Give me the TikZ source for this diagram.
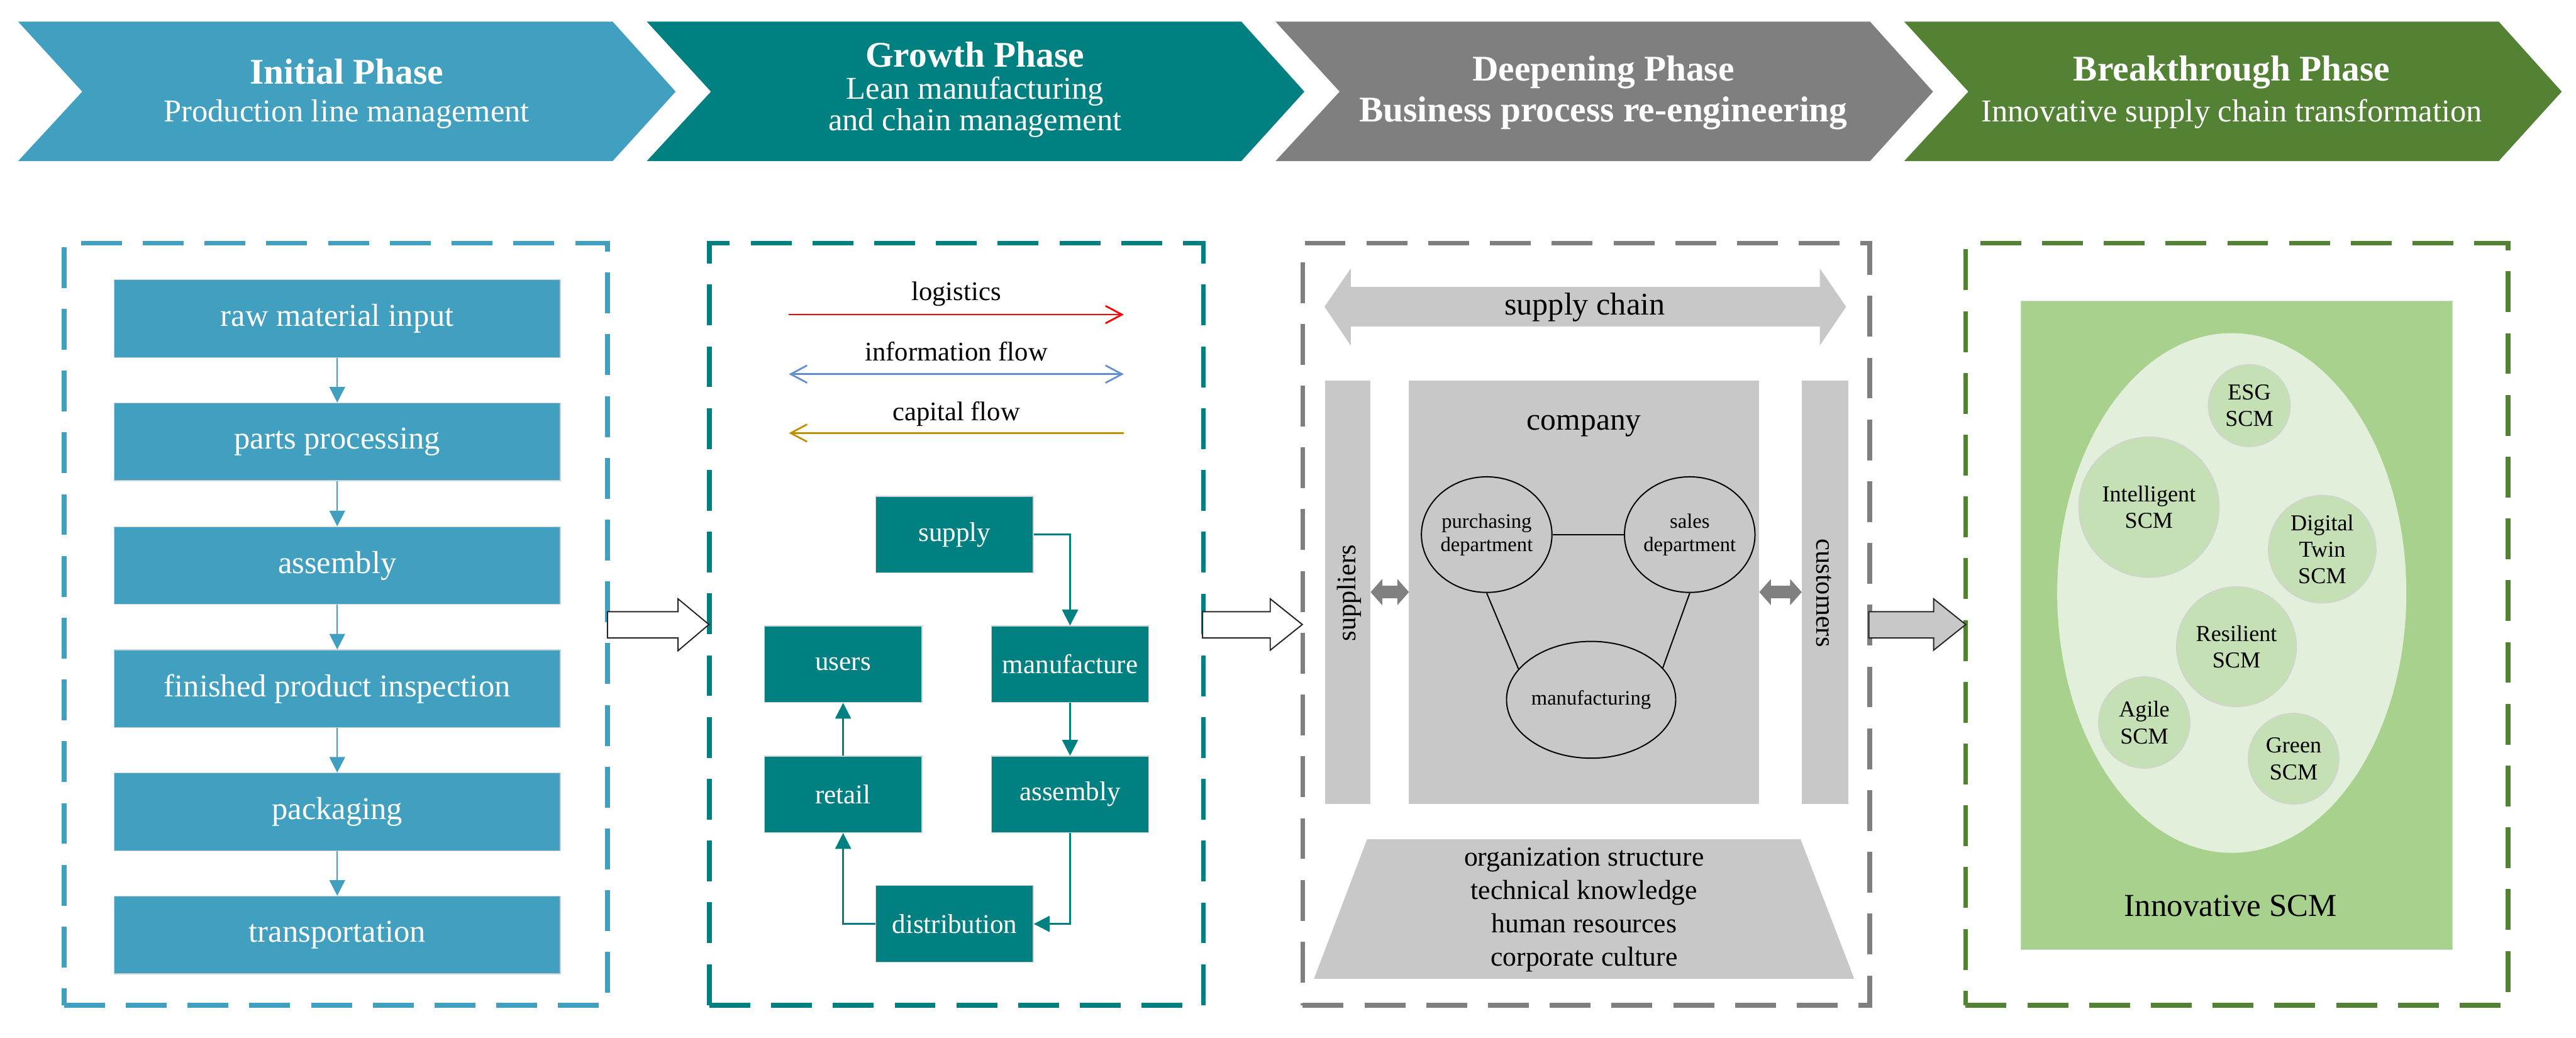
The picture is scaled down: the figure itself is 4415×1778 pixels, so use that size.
\documentclass[tikz,border=0pt]{standalone}
\usepackage{fontspec}
\setmainfont{Liberation Serif}
\usetikzlibrary{arrows.meta,shapes.geometric,calc}

\definecolor{cblue}{RGB}{65,160,192}
\definecolor{cteal}{RGB}{0,128,128}
\definecolor{cgray}{RGB}{127,127,127}
\definecolor{cgreen}{RGB}{84,130,53}
\definecolor{clgray}{RGB}{200,200,200}
\definecolor{cdgray}{RGB}{128,128,128}
\definecolor{cmgreen}{RGB}{169,209,142}
\definecolor{cpale}{RGB}{226,239,218}
\definecolor{ccirc}{RGB}{197,224,180}
\definecolor{ccircb}{RGB}{208,214,204}
\definecolor{clog}{RGB}{255,0,0}
\definecolor{cinfo}{RGB}{99,142,208}
\definecolor{ccap}{RGB}{191,144,0}
\definecolor{cedge}{RGB}{205,210,212}

\newcommand{\myfs}[2]{\fontsize{#1}{#2}\selectfont}
\newcommand{\mychev}[2]{\fill[#2] (#1,37) -- ++(1019,0) -- ++(108,120) -- ++(-108,119) -- ++(-1019,0) -- ++(110,-119) -- cycle;}

\begin{document}
\begin{tikzpicture}[x=0.01cm,y=-0.01cm,
  ttl/.style={anchor=base, text=white, font=\myfs{17.6}{20}\bfseries, inner sep=0},
  subttl/.style={anchor=base, text=white, font=\myfs{15.5}{18}, inner sep=0},
  panel/.style={draw=#1, line width=2.3pt, dash pattern=on 19.9pt off 10.2pt, inner sep=0, outer sep=0},
  bluebox/.style={fill=cblue, draw=cedge, line width=0.4pt, minimum width=7.64cm, minimum height=1.33cm, text=white, font=\myfs{15.5}{18}, inner sep=0},
  tealbox/.style={fill=cteal, draw=cedge, line width=0.4pt, minimum width=2.70cm, minimum height=1.31cm, text=white, font=\myfs{13.2}{15}, inner sep=0},
  barrow/.style={draw=cblue, line width=0.75pt, -{Triangle[length=7.6pt,width=7.6pt]}},
  tarrow/.style={draw=cteal, line width=0.85pt, -{Triangle[length=7.7pt,width=7.7pt]}},
  leglbl/.style={anchor=base, font=\myfs{13.1}{15}, inner sep=0},
  graybar/.style={fill=clgray, inner sep=0, outer sep=0},
  dept/.style={ellipse, draw=black, line width=0.6pt, fill=clgray, inner sep=0, align=center, font=\myfs{10}{11.4}},
  garrow/.style={draw=cdgray, line width=6pt, {Triangle[length=5.7pt,width=12.5pt]}-{Triangle[length=5.7pt,width=12.5pt]}},
  circ/.style={circle, fill=ccirc, draw=ccircb, line width=0.6pt, inner sep=0, align=center, font=\myfs{11.1}{13}},
  blockarrow/.style={draw=black!85, line width=0.6pt}
]
\useasboundingbox (0,0) rectangle (4415,1778);

% ---------- chevrons ----------
\mychev{31}{cblue}
\mychev{1108.5}{cteal}
\mychev{2186}{cgray}
\mychev{3263.5}{cgreen}

\node[ttl] (t1a) at (594,144) {Initial Phase};
\node[subttl] (t1b) at (594,209) {Production line management};
\node[ttl] (t2a) at (1671,115) {Growth Phase};
\node[subttl] (t2b) at (1671,170) {Lean manufacturing};
\node[subttl] (t2c) at (1671,224) {and chain management};
\node[ttl] (t3a) at (2748,138) {Deepening Phase};
\node[ttl] (t3b) at (2748,209) {Business process re-engineering};
\node[ttl] (t4a) at (3825,138) {Breakthrough Phase};
\node[subttl] (t4b) at (3825,209) {Innovative supply chain transformation};

% ---------- panels ----------
\node[panel=cblue, minimum width=9.31cm, minimum height=13.05cm] (p1) at (575.5,1069.5) {};
\node[panel=cteal, minimum width=8.46cm, minimum height=13.05cm] (p2) at (1639,1069.5) {};
\node[panel=cgray, minimum width=9.71cm, minimum height=13.05cm] (p3) at (2718.5,1069.5) {};
\node[panel=cgreen, minimum width=9.29cm, minimum height=13.05cm] (p4) at (3833.5,1069.5) {};

% ---------- panel 1 ----------
\node[bluebox] (b1) at (578,546) {raw material input};
\node[bluebox] (b2) at (578,757) {parts processing};
\node[bluebox] (b3) at (578,969) {assembly};
\node[bluebox] (b4) at (578,1180) {finished product inspection};
\node[bluebox] (b5) at (578,1391) {packaging};
\node[bluebox] (b6) at (578,1602) {transportation};
\draw[barrow] (b1) -- (b2);
\draw[barrow] (b2) -- (b3);
\draw[barrow] (b3) -- (b4);
\draw[barrow] (b4) -- (b5);
\draw[barrow] (b5) -- (b6);

% ---------- panel 2 ----------
\coordinate (la1) at (1352,539); \coordinate (lb1) at (1926,539);
\coordinate (la2) at (1352,641); \coordinate (lb2) at (1926,641);
\coordinate (la3) at (1352,742); \coordinate (lb3) at (1926,742);
\draw[clog, line width=0.85pt, -{Straight Barb[length=8pt,width=8.5pt]}] (la1) -- (lb1);
\draw[cinfo, line width=0.85pt, {Straight Barb[length=8pt,width=8.5pt]}-{Straight Barb[length=8pt,width=8.5pt]}] (la2) -- (lb2);
\draw[ccap, line width=0.85pt, {Straight Barb[length=8pt,width=8.5pt]}-] (la3) -- (lb3);
\node[leglbl] (l1) at (1639,515) {logistics};
\node[leglbl] (l2) at (1639,618) {information flow};
\node[leglbl] (l3) at (1639,721) {capital flow};

\node[tealbox] (sup2) at (1636,916) {supply};
\node[tealbox] (usr) at (1445,1138) {users};
\node[tealbox] (mfg) at (1834,1138) {manufacture};
\node[tealbox] (ret) at (1445,1361) {retail};
\node[tealbox] (asm) at (1834,1361) {assembly};
\node[tealbox] (dis) at (1636,1583) {distribution};
\draw[tarrow] (sup2.east) -| (mfg.north);
\draw[tarrow] (mfg) -- (asm);
\draw[tarrow] (asm.south) |- (dis.east);
\draw[tarrow] (dis.west) -| (ret.south);
\draw[tarrow] (ret) -- (usr);

% ---------- panel 3 ----------
\fill[clgray] (2270,525.5) -- (2315,460) -- (2315,491.5) -- (3119,491.5) -- (3119,460) -- (3164,525.5) -- (3119,592) -- (3119,559.5) -- (2315,559.5) -- (2315,592) -- cycle;
\node[font=\myfs{15.4}{18}, inner sep=0] (sc) at (2716,527) {supply chain};

\node[graybar, minimum width=0.78cm, minimum height=7.25cm] (supl) at (2310,1014.5) {};
\node[graybar, minimum width=6.00cm, minimum height=7.25cm] (comp) at (2715,1014.5) {};
\node[graybar, minimum width=0.80cm, minimum height=7.25cm] (cust) at (3128,1014.5) {};
\node[rotate=90, font=\myfs{13}{15}, inner sep=0] (suplt) at (2312,1016) {suppliers};
\node[rotate=-90, font=\myfs{13}{15}, inner sep=0] (custt) at (3126,1016) {customers};
\node[font=\myfs{15.2}{18}, inner sep=0] (compt) at (2715,730) {company};

\draw[garrow] (supl.east) -- (comp.west);
\draw[garrow] (comp.east) -- (cust.west);

\node[dept, minimum width=2.22cm, minimum height=1.98cm] (pur) at (2548,916) {purchasing\\department};
\node[dept, minimum width=2.22cm, minimum height=1.98cm] (sal) at (2896,916) {sales\\department};
\node[dept, minimum width=2.76cm, minimum height=2.00cm] (man) at (2727,1199) {manufacturing};
\draw[line width=0.6pt] (pur.east) -- (sal.west);
\draw[line width=0.6pt] (pur.south) -- (man.157);
\draw[line width=0.6pt] (sal.south) -- (man.24);

\fill[clgray] (2343,1438) -- (3086,1438) -- (3178,1677) -- (2252,1677) -- cycle;
\node[align=center, font=\myfs{13.4}{16.2}, inner sep=0] (res) at (2715,1559) {organization structure\\technical knowledge\\human resources\\corporate culture};

% ---------- panel 4 ----------
\node[fill=cmgreen, draw=cedge, line width=0.4pt, minimum width=7.39cm, minimum height=11.11cm, inner sep=0] (gbox) at (3833.5,1071.5) {};
\node[ellipse, fill=cpale, minimum width=5.98cm, minimum height=8.90cm, inner sep=0] (big) at (3825,1016) {};
\node[circ, minimum size=1.40cm] (c1) at (3855,695) {ESG\\SCM};
\node[circ, minimum size=2.40cm] (c2) at (3683,869) {Intelligent\\SCM};
\node[circ, minimum size=1.84cm] (c3) at (3980,941) {Digital\\Twin\\SCM};
\node[circ, minimum size=2.05cm] (c4) at (3833,1108) {Resilient\\SCM};
\node[circ, minimum size=1.56cm] (c5) at (3675,1238) {Agile\\SCM};
\node[circ, minimum size=1.55cm] (c6) at (3931,1300) {Green\\SCM};
\node[font=\myfs{15.6}{18}, inner sep=0] (inno) at (3823,1552) {Innovative SCM};

% ---------- block arrows between panels ----------
\filldraw[blockarrow, fill=white] (1041,1048) -- (1162,1048) -- (1162,1026) -- (1215,1070) -- (1162,1115) -- (1162,1093) -- (1041,1093) -- cycle;
\filldraw[blockarrow, fill=white] (2061,1048) -- (2177,1048) -- (2177,1026) -- (2232,1070) -- (2177,1114) -- (2177,1093) -- (2061,1093) -- cycle;
\filldraw[blockarrow, fill=clgray] (3203,1048) -- (3314,1048) -- (3314,1026) -- (3369,1070) -- (3314,1114) -- (3314,1093) -- (3203,1093) -- cycle;
\end{tikzpicture}
\end{document}
